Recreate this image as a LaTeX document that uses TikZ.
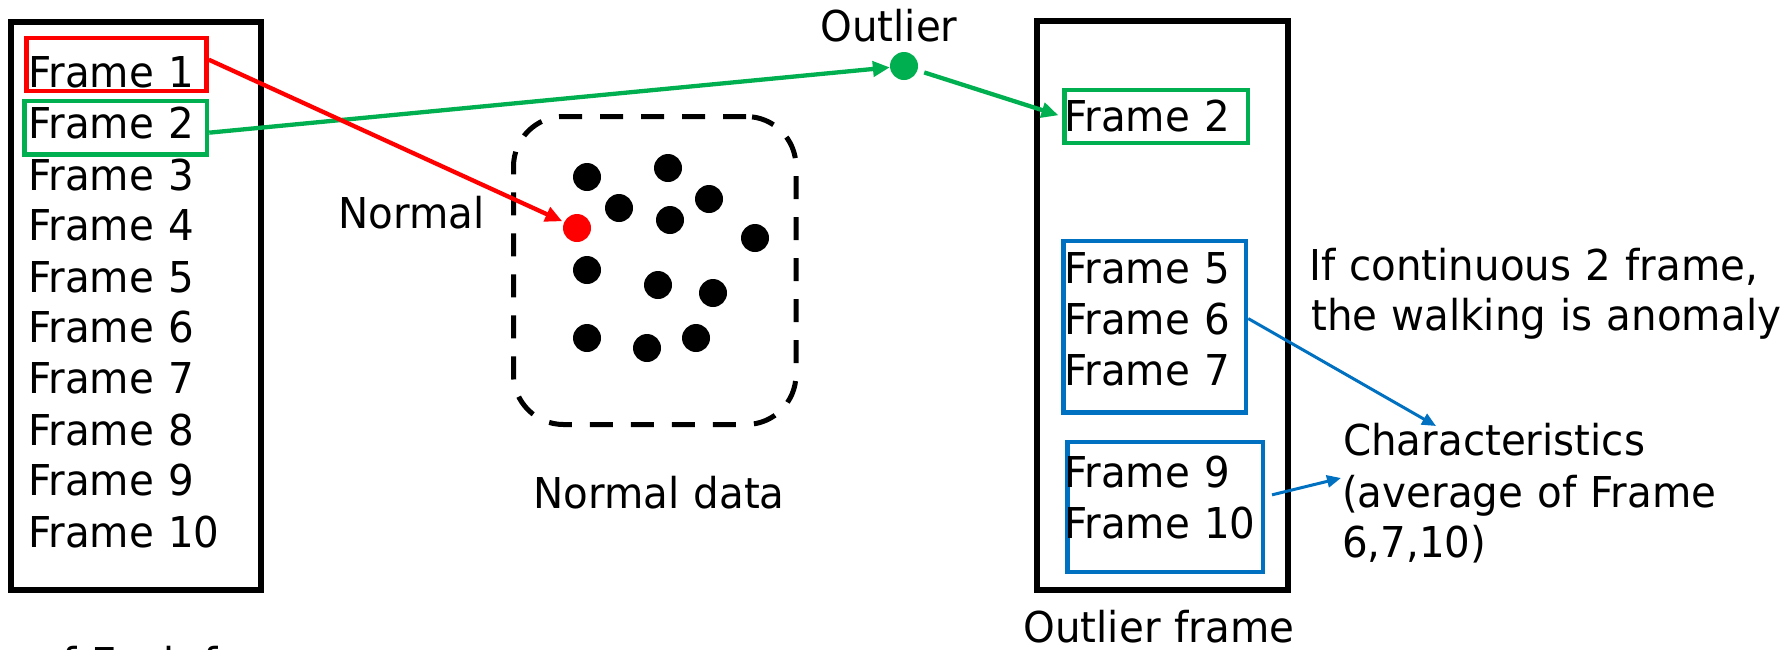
\documentclass[tikz,border=0pt]{standalone}
\usepackage{fontspec}
\setmainfont{DejaVu Sans}[FakeStretch=0.95,WordSpace=1.1]
\usetikzlibrary{arrows.meta}
\definecolor{pred}{HTML}{FF0000}
\definecolor{pgreen}{HTML}{00B050}
\definecolor{pblue}{HTML}{0070C0}
\tikzset{
  lbl/.style={inner sep=0pt, font=\fontsize{42.5}{51}\selectfont},
  frm/.style={lbl, anchor=base west},
  outerbox/.style={draw=black, line width=5.5pt, inner sep=0pt},
  selbox/.style={draw=#1, line width=4.5pt, inner sep=0pt},
  dot/.style={circle, fill=#1, minimum size=28pt, inner sep=0pt},
  conn/.style={draw=#1, line width=4.3pt, -{Triangle[length=17pt,width=15pt]}},
  thinconn/.style={draw=pblue, line width=3pt, -{Triangle[length=14pt,width=12pt]}},
  normbox/.style={draw=black, line width=5pt, dash pattern=on 23pt off 18pt, rounded corners=50pt, inner sep=0pt}
}
\begin{document}
\begin{tikzpicture}[x=1pt,y=-1pt]
\clip (0,0) rectangle (1790,649);
\fill[white] (0,0) rectangle (1790,649);

% left list
\node[outerbox, minimum width=250pt, minimum height=568pt] (lbox) at (136,306) {};
\node[selbox=pred, minimum width=180pt, minimum height=53pt] (r1) at (116.5,64.5) {};
\node[selbox=pgreen, minimum width=182.5pt, minimum height=53.5pt] (g1) at (115.75,127.75) {};
\node[frm] (f1) at (28,87) {Frame 1};
\node[frm] (f2) at (28,138) {Frame 2};
\node[frm] (f3) at (28,190) {Frame 3};
\node[frm] (f4) at (28,240) {Frame 4};
\node[frm] (f5) at (28,292) {Frame 5};
\node[frm] (f6) at (28,342) {Frame 6};
\node[frm] (f7) at (28,393) {Frame 7};
\node[frm] (f8) at (28,445) {Frame 8};
\node[frm] (f9) at (28,495) {Frame 9};
\node[frm] (f10) at (28,547) {Frame 10};
\node[frm] (each) at (38,678) {of Each frame};

% normal data
\node[normbox, minimum width=282.5pt, minimum height=308pt] (nd) at (654.75,270.5) {};
\node[dot=black] (d1) at (587,177) {};
\node[dot=black] (d2) at (668,168) {};
\node[dot=black] (d3) at (619,208) {};
\node[dot=black] (d4) at (670,220) {};
\node[dot=black] (d5) at (709,199) {};
\node[dot=black] (d6) at (755,238) {};
\node[dot=black] (d7) at (587,270) {};
\node[dot=black] (d8) at (658,285) {};
\node[dot=black] (d9) at (713,293) {};
\node[dot=black] (d10) at (587,338) {};
\node[dot=black] (d11) at (647,348) {};
\node[dot=black] (d12) at (696,338) {};
\node[dot=pred] (rdot) at (577,228) {};
\node[lbl, anchor=base east] (normal) at (485,228) {Normal};
\node[lbl, anchor=base] (ndlbl) at (659,508) {Normal data};

% outlier
\node[dot=pgreen] (gdot) at (904,66) {};
\node[lbl, anchor=base] (outl) at (889,41) {Outlier};

% right box
\node[outerbox, minimum width=251pt, minimum height=569pt] (rbox) at (1162.5,305.5) {};
\node[selbox=pgreen, minimum width=183.5pt, minimum height=53pt] (g2) at (1156.25,116.5) {};
\node[selbox=pblue, minimum width=182.5pt, minimum height=171.5pt] (b1) at (1154.75,326.75) {};
\node[selbox=pblue, minimum width=195.5pt, minimum height=130pt] (b2) at (1165.25,507) {};
\node[frm] (o2) at (1064,131) {Frame 2};
\node[frm] (o5) at (1064,283) {Frame 5};
\node[frm] (o6) at (1064,334) {Frame 6};
\node[frm] (o7) at (1064,385) {Frame 7};
\node[frm] (o9) at (1064,487) {Frame 9};
\node[frm] (o10) at (1064,538) {Frame 10};
\node[lbl, anchor=base] (oflbl) at (1159,642) {Outlier frame};

% right texts
\node[frm] (if1) at (1309,280) {If continuous 2 frame,};
\node[frm] (if2) at (1311,330) {the walking is anomaly};
\node[frm] (ch1) at (1343,455) {Characteristics};
\node[frm] (ch2) at (1342,507) {(average of Frame};
\node[frm] (ch3) at (1342,557) {6,7,10)};
\coordinate (chtop) at (1436,426);
\coordinate (chleft) at (1341,478);

% connectors
\draw[conn=pgreen] (g1.-3) -- (gdot);
\draw[conn=pred, shorten >=2pt] (r1.3) -- (rdot);
\draw[conn=pgreen, shorten <=7pt, shorten >=4pt] (gdot) -- (g2.west);
\draw[thinconn] (b1.5) -- (chtop);
\draw[thinconn, shorten <=7pt] (b2.6) -- (chleft);
\end{tikzpicture}
\end{document}
